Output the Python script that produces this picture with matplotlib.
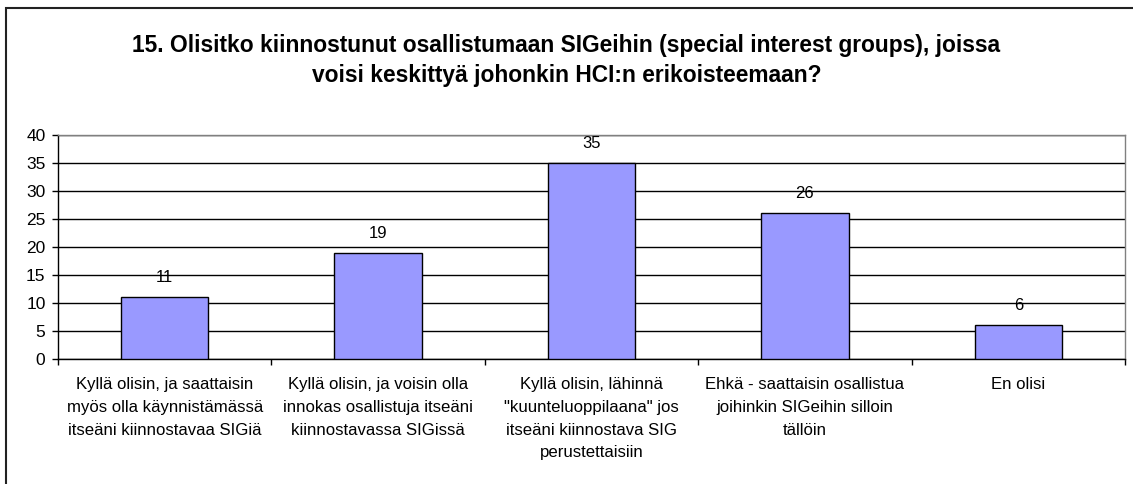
import matplotlib
matplotlib.use("Agg")
import matplotlib.pyplot as plt
from matplotlib.patches import Rectangle

plt.rcParams['font.family'] = ['Liberation Sans', 'DejaVu Sans']

title = ("15. Olisitko kiinnostunut osallistumaan SIGeihin (special interest groups), joissa\n"
         "voisi keskittyä johonkin HCI:n erikoisteemaan?")
categories = [
    "Kyllä olisin, ja saattaisin\nmyös olla käynnistämässä\nitseäni kiinnostavaa SIGiä",
    "Kyllä olisin, ja voisin olla\ninnokas osallistuja itseäni\nkiinnostavassa SIGissä",
    "Kyllä olisin, lähinnä\n\"kuunteluoppilaana\" jos\nitseäni kiinnostava SIG\nperustettaisiin",
    "Ehkä - saattaisin osallistua\njoihinkin SIGeihin silloin\ntällöin",
    "En olisi",
]
values = [11, 19, 35, 26, 6]
yticks = [0, 5, 10, 15, 20, 25, 30, 35, 40]

fig = plt.figure(figsize=(11.33, 4.84), dpi=100)
fig.patch.set_facecolor('white')
W, H = 1133, 484

# outer chart border (right/bottom edges fall outside the image)
fig.patches.append(Rectangle((6 / W, 0 - 0.05), 1.1, 1 - 8 / H + 0.05,
                             transform=fig.transFigure, fill=False,
                             edgecolor='#222222', linewidth=1.5))

ax = fig.add_axes([58 / W, 1 - 359 / H, (1125 - 58) / W, (359 - 135) / H])
x = list(range(len(values)))
bars = ax.bar(x, values, width=0.41, color='#9999FF', edgecolor='black',
              linewidth=1.0, zorder=3)
for xi, v in zip(x, values):
    ax.annotate(str(v), (xi, v), xytext=(0, 14), textcoords='offset points',
                ha='center', va='center', fontsize=12, color='black')

ax.set_xlim(-0.5, len(values) - 0.5)
ax.set_ylim(0, 40)
ax.set_yticks(yticks)
ax.set_yticklabels([str(t) for t in yticks], fontsize=12.5)
ax.yaxis.grid(True, color='black', linewidth=1.0, zorder=0)
ax.set_axisbelow(True)

ax.set_xticks(x)
ax.set_xticklabels(categories, fontsize=12.1, linespacing=1.65, va='top')
ax.set_xticks([i + 0.5 for i in range(-1, len(values))], minor=True)
ax.tick_params(axis='x', which='major', length=0, pad=13)
ax.tick_params(axis='x', which='minor', length=4, width=1, color='black', direction='out')
ax.tick_params(axis='y', length=4, width=1, color='black', pad=5)

for s in ['left', 'bottom']:
    ax.spines[s].set_color('black')
    ax.spines[s].set_linewidth(1.0)
for s in ['top', 'right']:
    ax.spines[s].set_color('#808080')
    ax.spines[s].set_linewidth(1.0)

fig.text(0.5, 1 - 60.5 / H, title, ha='center', va='center', fontsize=16.4,
         fontweight='bold', linespacing=1.4, multialignment='center')

fig.savefig('out.png', dpi=100, facecolor='white')
